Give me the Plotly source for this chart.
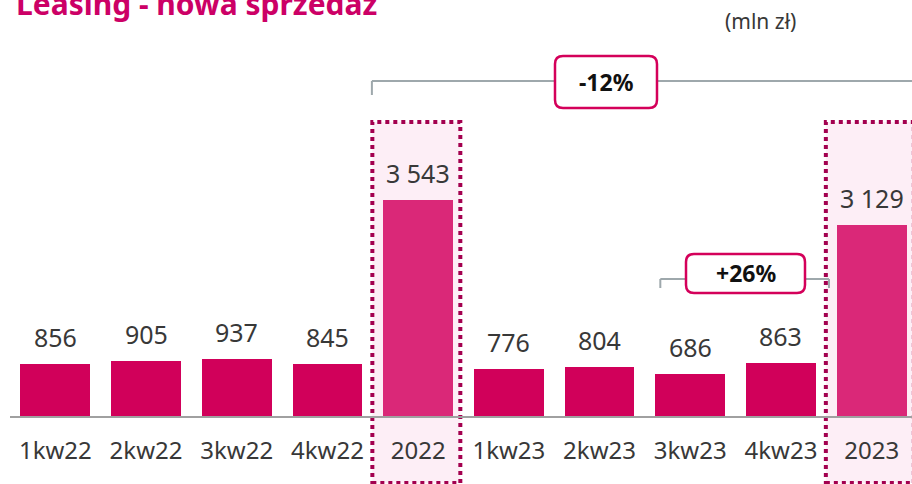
import plotly.graph_objects as go

# ---- data -------------------------------------------------------------
categories = ["1kw22", "2kw22", "3kw22", "4kw22", "2022",
              "1kw23", "2kw23", "3kw23", "4kw23", "2023"]
sales = [856, 905, 937, 845, 3543, 776, 804, 686, 863, 3129]
yearly_totals = {"2022", "2023"}
change_yearly = "-12%"
change_q4 = "+26%"
title_text = "Leasing - nowa sprzedaż"
unit_text = "(mln zł)"

# ---- styling ------------------------------------------------------------
FONT = "Noto Sans"
BAR_Q = "#D1005A"
BAR_Y = "#DA2878"
FRAME_FILL = "#FDEEF6"
FRAME_LINE = "#A3004F"
BRACKET = "#9EA8AC"
BOX_LINE = "#D4005A"
TEXT = "#383838"

W, H = 912, 484
M_L, M_R, M_T, M_B = 10, 0, 0, 68
PW, PH = W - M_L - M_R, H - M_T - M_B
STEP = 90.7                       # pixels per category
X0 = -0.5
X1 = X0 + PW / STEP
Y_MAX = PH / 0.0611               # value range shown on the y axis


def px_y(p):
    """page pixel row -> paper y"""
    return (H - M_B - p) / PH


def cat_x(c):
    """category position -> paper x"""
    return (c - X0) / (X1 - X0)


def px_x(p):
    return (p - M_L) / PW


def rounded_box(x0, y0, x1, y1, r):
    pts = lambda x, y: f"{px_x(x):.5f},{px_y(y):.5f}"
    return (f"M {pts(x0 + r, y0)} L {pts(x1 - r, y0)} Q {pts(x1, y0)} {pts(x1, y0 + r)} "
            f"L {pts(x1, y1 - r)} Q {pts(x1, y1)} {pts(x1 - r, y1)} "
            f"L {pts(x0 + r, y1)} Q {pts(x0, y1)} {pts(x0, y1 - r)} "
            f"L {pts(x0, y0 + r)} Q {pts(x0, y0)} {pts(x0 + r, y0)} Z")


xs = list(range(len(categories)))
colors = [BAR_Y if c in yearly_totals else BAR_Q for c in categories]

fig = go.Figure(go.Bar(
    x=xs, y=sales, width=0.77,
    marker=dict(color=colors, line=dict(width=0)),
    hoverinfo="skip",
))

shapes = []
annotations = []

# dotted frames around the yearly totals
for i, c in enumerate(categories):
    if c in yearly_totals:
        shapes.append(dict(
            type="rect", xref="x", yref="paper",
            x0=i - 0.505, x1=i + 0.465, y0=px_y(483), y1=px_y(122),
            fillcolor=FRAME_FILL, layer="below",
            line=dict(color=FRAME_LINE, width=4, dash="4px,4px"),
        ))

# value labels
for i, v in enumerate(sales):
    annotations.append(dict(
        x=i, y=v, xref="x", yref="y", yshift=27,
        xanchor="center", yanchor="middle",
        text=f"{v:,}".replace(",", " "), showarrow=False,
        font=dict(family=FONT, size=25, color=TEXT),
    ))

# bracket: year over year
i22, i23 = categories.index("2022"), categories.index("2023")
bx_l = cat_x(i22 - 0.51)
shapes += [
    dict(type="line", xref="paper", yref="paper", x0=bx_l, x1=1.05,
         y0=px_y(81), y1=px_y(81), line=dict(color=BRACKET, width=2)),
    dict(type="line", xref="paper", yref="paper", x0=bx_l, x1=bx_l,
         y0=px_y(81), y1=px_y(95), line=dict(color=BRACKET, width=2)),
    dict(type="path", xref="paper", yref="paper",
         path=rounded_box(555, 56, 657, 108, 8),
         fillcolor="white", line=dict(color=BOX_LINE, width=2.5)),
]
annotations.append(dict(
    x=px_x(606), y=px_y(82), xref="paper", yref="paper", showarrow=False,
    xanchor="center", yanchor="middle",
    text=f"<b>{change_yearly}</b>", font=dict(family=FONT, size=23, color="#111111"),
))

# bracket: 4kw23 vs 3kw23
i3, i4 = categories.index("3kw23"), categories.index("4kw23")
sl, sr = cat_x(i3 - 0.33), cat_x(i4 + 0.53)
shapes += [
    dict(type="line", xref="paper", yref="paper", x0=sl, x1=sr,
         y0=px_y(279), y1=px_y(279), line=dict(color=BRACKET, width=2)),
    dict(type="line", xref="paper", yref="paper", x0=sl, x1=sl,
         y0=px_y(279), y1=px_y(288), line=dict(color=BRACKET, width=2)),
    dict(type="line", xref="paper", yref="paper", x0=sr, x1=sr,
         y0=px_y(279), y1=px_y(288), line=dict(color=BRACKET, width=2)),
    dict(type="path", xref="paper", yref="paper",
         path=rounded_box(686, 254, 805, 293, 8),
         fillcolor="white", line=dict(color=BOX_LINE, width=2.5)),
]
annotations.append(dict(
    x=px_x(746), y=px_y(273), xref="paper", yref="paper", showarrow=False,
    xanchor="center", yanchor="middle",
    text=f"<b>{change_q4}</b>", font=dict(family=FONT, size=23, color="#111111"),
))

# title and unit
annotations += [
    dict(x=px_x(14), y=px_y(26), xref="paper", yref="paper", xanchor="left",
         yanchor="bottom", showarrow=False, text=f"<b>{title_text}</b>",
         font=dict(family=FONT, size=30, color="#CC0066")),
    dict(x=px_x(760), y=px_y(21), xref="paper", yref="paper", xanchor="center",
         yanchor="middle", showarrow=False, text=unit_text,
         font=dict(family=FONT, size=21, color=TEXT)),
]

fig.update_layout(
    width=W, height=H, autosize=False,
    margin=dict(l=M_L, r=M_R, t=M_T, b=M_B, pad=0),
    paper_bgcolor="white", plot_bgcolor="white",
    showlegend=False, bargap=0,
    shapes=shapes, annotations=annotations,
    xaxis=dict(
        range=[X0, X1], tickvals=xs, ticktext=categories,
        showgrid=False, zeroline=False, ticks="",
        showline=True, linecolor="#A0A0A0", linewidth=2,
        tickfont=dict(family=FONT, size=24, color=TEXT),
        ticklabelstandoff=12, fixedrange=True,
    ),
    yaxis=dict(range=[0, Y_MAX], visible=False, fixedrange=True),
)

fig.write_html("out.html", config={"displayModeBar": False})
